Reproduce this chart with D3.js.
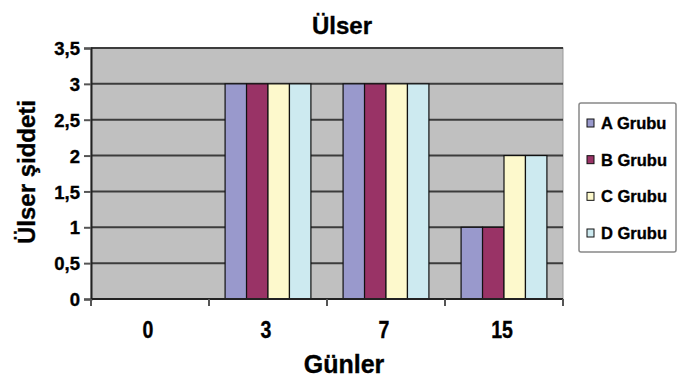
<!DOCTYPE html>
<html><head><meta charset="utf-8">
<script src="https://cdn.jsdelivr.net/npm/d3@7/dist/d3.min.js"></script>
<style>body{margin:0;background:#fff}svg{display:block}text{font-family:"Liberation Sans",Arial,sans-serif;font-weight:bold;fill:#000;stroke:#000;stroke-width:0.35px}</style>
</head><body><svg id="c" width="685" height="380"></svg>
<script>
const categories = ["0","3","7","15"];
const seriesNames = ["A Grubu","B Grubu","C Grubu","D Grubu"];
const seriesA = [0,3,3,1];
const seriesB = [0,3,3,1];
const seriesC = [0,3,3,2];
const seriesD = [0,3,3,2];
const yTicks = [0,0.5,1,1.5,2,2.5,3,3.5];
const colors = ["#9999cc","#993366","#fdf9cc","#cdeaf0"];
const series = [seriesA,seriesB,seriesC,seriesD];

const svg = d3.select("#c");
const L=91,R=563,T=48,B=299;
const x = d3.scaleBand().domain(categories).range([L,R]);
const y = d3.scaleLinear().domain([0,3.5]).range([B,T]);
const bw = x.bandwidth()/ (4+1.5);
const x1 = d3.scaleBand().domain(seriesNames).range([0,bw*4]);
const fmt = v => String(v).replace(".",",");

svg.append("rect").attr("x",L).attr("y",T).attr("width",R-L).attr("height",B-T).attr("fill","#c0c0c0").attr("stroke","#9a9a9a");
svg.append("g").selectAll("line").data(yTicks.filter(d=>d>0)).join("line")
  .attr("x1",L).attr("x2",R).attr("y1",d=>y(d)).attr("y2",d=>y(d)).attr("stroke","#3c3c3c").attr("stroke-width",2);

const g = svg.append("g");
categories.forEach((c,i)=>{
  const x0 = x(c)+(x.bandwidth()-bw*4)/2;
  series.forEach((s,j)=>{
    if(s[i]<=0) return;
    g.append("rect").attr("x",x0+x1(seriesNames[j])).attr("y",y(s[i])).attr("width",x1.bandwidth()).attr("height",y(0)-y(s[i]))
      .attr("fill",colors[j]).attr("stroke","#111").attr("stroke-width",1.2);
  });
});

// y axis
const ya = svg.append("g").attr("transform",`translate(${L},0)`).call(d3.axisLeft(y).tickValues(yTicks).tickFormat(fmt).tickSize(7).tickPadding(4));
ya.select(".domain").attr("stroke","#222").attr("stroke-width",2);
ya.selectAll(".tick line").attr("stroke","#555").attr("stroke-width",2);
ya.selectAll("text").attr("font-size",18.5).attr("dy","0.36em").style("font-family","Liberation Sans, Arial").style("font-weight","bold").style("stroke","#000").style("stroke-width","0.35px");

// x axis
svg.append("line").attr("x1",L).attr("x2",R).attr("y1",B).attr("y2",B).attr("stroke","#222").attr("stroke-width",2);
svg.append("g").selectAll("line").data(d3.range(categories.length+1)).join("line")
  .attr("x1",d=>L+d*x.step()).attr("x2",d=>L+d*x.step()).attr("y1",B).attr("y2",B+7).attr("stroke","#555").attr("stroke-width",2);
svg.append("g").selectAll("text").data(categories).join("text")
  .attr("transform",d=>`translate(${x(d)+x.bandwidth()/2-2},338) scale(0.85,1)`)
  .attr("text-anchor","middle").attr("font-size",23).text(d=>d);

svg.append("text").attr("x",342).attr("y",34).attr("text-anchor","middle").attr("font-size",24).text("Ülser");
svg.append("text").attr("x",344).attr("y",373).attr("text-anchor","middle").attr("font-size",25).text("Günler");
svg.append("text").attr("transform","translate(35,172) rotate(-90)").attr("text-anchor","middle").attr("font-size",24).text("Ülser şiddeti");

// legend
const lg = svg.append("g");
lg.append("rect").attr("x",579).attr("y",103).attr("width",97).attr("height",149).attr("fill","#fff").attr("stroke","#888").attr("stroke-width",1.5).attr("rx",2);
const ly = d3.scalePoint().domain(seriesNames).range([123,233]);
seriesNames.forEach((n,j)=>{
  lg.append("rect").attr("x",587).attr("y",ly(n)-4).attr("width",7).attr("height",8).attr("fill",colors[j]).attr("stroke","#111");
  lg.append("text").attr("x",601).attr("y",ly(n)+6).attr("font-size",16.5).text(n);
});
</script></body></html>
